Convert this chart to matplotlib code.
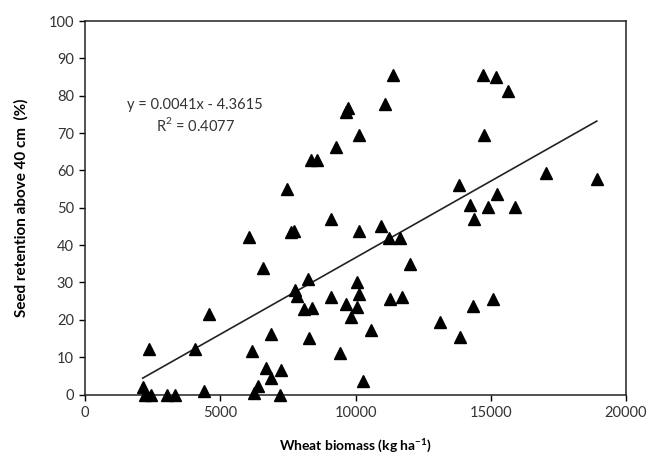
#!/usr/bin/env python3
"""Seed retention above 40 cm vs wheat biomass, with linear trend"""

import numpy as np
import matplotlib; matplotlib.use('Agg')
import matplotlib.pyplot as plt

# wheat biomass (kg/ha) and seed retention (%)
biomass = [2130, 2220, 2450, 2370, 3040, 3320, 4070, 4410, 4600,
           6070, 6160, 6250, 6410, 6580, 6680, 6860, 6880, 7210, 7240,
           7480, 7620, 7720, 7760, 7830, 8080, 8240, 8280, 8400, 8370, 8590,
           9090, 9110, 9280, 9430, 9650, 9650, 9740, 9830,
           10040, 10050, 10130, 10140, 10140, 10280, 10560, 10930, 11080,
           11230, 11260, 11370, 11660, 11730, 12010,
           13110, 13840, 13860, 14240, 14340, 14370, 14720, 14750, 14910,
           15070, 15190, 15240, 15620, 15890, 17040, 18920]
retention = [2.1, 0, 0, 12.3, 0, 0, 12.3, 1.0, 21.5,
             42.1, 11.6, 0.5, 2.2, 34.0, 7.1, 4.3, 16.1, 0, 6.6,
             54.9, 43.6, 43.8, 28.0, 26.5, 22.9, 31.0, 15.1, 23.1, 62.8, 62.8,
             46.9, 26.2, 66.2, 11.2, 24.2, 75.6, 76.6, 20.8,
             30.1, 23.5, 26.9, 43.7, 69.6, 3.6, 17.4, 45.2, 77.7,
             42.0, 25.6, 85.5, 42.0, 26.0, 34.9,
             19.3, 56.2, 15.4, 50.7, 23.8, 46.9, 85.5, 69.6, 50.3,
             25.6, 84.9, 53.6, 81.3, 50.2, 59.4, 57.6]

# trend line from the chart's equation
slope = 0.0041
intercept = -4.3615
r2 = 0.4077

xticks = [0, 5000, 10000, 15000, 20000]
yticks = list(range(0, 101, 10))

##########################################################
def main():
    plt.rcParams['font.family'] = ['Lato', 'DejaVu Sans']
    plt.rcParams['mathtext.fontset'] = 'custom'
    plt.rcParams['mathtext.rm'] = 'Lato'
    plt.rcParams['mathtext.bf'] = 'Lato:bold'
    fig = plt.figure(figsize=(6.49, 4.54), dpi=100)
    ax = fig.add_axes([0.131, 0.131, 0.8336, 0.8227])

    x = np.array(biomass, dtype=float)
    y = np.array(retention, dtype=float)
    ax.plot(x, y, linestyle='none', marker='^', color='black',
            markersize=9, clip_on=False, zorder=3)

    xl = np.array([x.min(), x.max()])
    ax.plot(xl, slope * xl + intercept, color='#222222', lw=1.2, zorder=2)

    ax.text(4070, 77.5, 'y = {}x - {}'.format(slope, -intercept),
            ha='center', va='center', fontsize=10.5, color='#333333')
    ax.text(4070, 72.2, 'R$^2$ = {}'.format(r2),
            ha='center', va='center', fontsize=10.5, color='#333333')

    ax.set_xlim(0, 20000)
    ax.set_ylim(0, 100)
    ax.set_xticks(xticks)
    ax.set_yticks(yticks)
    ax.tick_params(direction='out', length=4.5, width=1, colors='black',
                   labelcolor='#333333', labelsize=10.5)
    for s in ax.spines.values():
        s.set_linewidth(1.1)
        s.set_color('#222222')

    ax.set_xlabel('Wheat biomass (kg ha$^{\\mathbf{-1}}$)', fontsize=10,
                  fontweight='bold', labelpad=12)
    ax.set_ylabel('Seed retention above 40 cm  (%)', fontsize=11,
                  fontweight='bold', labelpad=14)

    fig.savefig('out.png', dpi=100)

##########################################################
if __name__ == "__main__":
    main()
